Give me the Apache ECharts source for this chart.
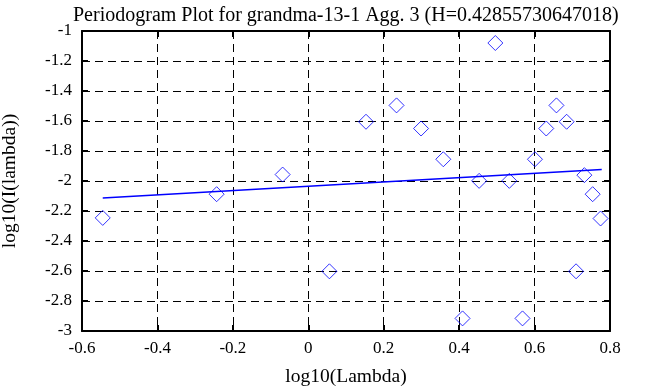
<!DOCTYPE html>
<html><head><meta charset="utf-8">
<script src="https://cdn.jsdelivr.net/npm/echarts@6/dist/echarts.min.js"></script>
<style>html,body{margin:0;padding:0;background:#fff}#c{width:658px;height:387px}</style>
</head><body><div id="c"></div>
<script>
const titleText = 'Periodogram Plot for grandma-13-1 Agg. 3 (H=0.42855730647018)';
const xName = 'log10(Lambda)';
const yName = 'log10(I(lambda))';
const pointX = [-0.545, -0.243, -0.068, 0.056, 0.153, 0.234, 0.299, 0.358, 0.409, 0.453, 0.496, 0.533, 0.568, 0.601, 0.631, 0.658, 0.685, 0.710, 0.732, 0.754, 0.775];
const pointY = [-2.246, -2.088, -1.957, -2.602, -1.605, -1.496, -1.650, -1.855, -2.916, -1.999, -1.080, -1.999, -2.916, -1.855, -1.650, -1.496, -1.605, -2.602, -1.961, -2.088, -2.250];
const fitX = [-0.545, 0.778];
const fitY = [-2.113, -1.924];

const font = 'Liberation Serif';
const chart = echarts.init(document.getElementById('c'), null, {renderer: 'canvas'});
const axisCommon = {
  axisLine: {show: true, onZero: false, lineStyle: {color: '#000', width: 2}},
  axisTick: {show: true, inside: true, length: 6, lineStyle: {color: '#000', width: 2}},
  splitLine: {show: false}
};
chart.setOption({
  animation: false,
  title: {text: titleText, left: 68, top: 1,
    textStyle: {fontFamily: font, fontSize: 20, fontWeight: 'normal', color: '#000'}},
  grid: {left: 82, right: 48, top: 31, bottom: 56, containLabel: false, outerBoundsMode: 'none'},
  xAxis: [
    Object.assign({}, axisCommon, {type: 'value', min: -0.6, max: 0.8, interval: 0.2, position: 'bottom',
      name: xName, nameLocation: 'middle', nameGap: 36,
      nameTextStyle: {fontFamily: font, fontSize: 19.5, color: '#000'},
      axisLabel: {fontFamily: font, fontSize: 17, color: '#000', margin: 9,
        formatter: v => String(Math.round(v * 10) / 10)},
      splitLine: {show: true, lineStyle: {color: '#000', type: [8, 5], width: 1}}}),
    Object.assign({}, axisCommon, {type: 'value', min: -0.6, max: 0.8, interval: 0.2, position: 'top',
      axisLabel: {show: false}})
  ],
  yAxis: [
    Object.assign({}, axisCommon, {type: 'value', min: -3, max: -1, interval: 0.2, position: 'left',
      name: yName, nameLocation: 'middle', nameGap: 62,
      nameTextStyle: {fontFamily: font, fontSize: 19.5, color: '#000'},
      axisLabel: {fontFamily: font, fontSize: 17, color: '#000', margin: 10,
        formatter: v => String(Math.round(v * 10) / 10)},
      splitLine: {show: true, lineStyle: {color: '#000', type: [8, 5], width: 1}}}),
    Object.assign({}, axisCommon, {type: 'value', min: -3, max: -1, interval: 0.2, position: 'right',
      axisLabel: {show: false}})
  ],
  series: [
    {type: 'scatter', xAxisIndex: 0, yAxisIndex: 0,
      data: pointX.map((x, i) => [x, pointY[i]]),
      symbol: 'diamond', symbolSize: [15, 15],
      itemStyle: {color: 'rgba(255,255,255,0)', borderColor: '#0000ff', borderWidth: 1}},
    {type: 'line', xAxisIndex: 0, yAxisIndex: 0,
      data: fitX.map((x, i) => [x, fitY[i]]),
      symbol: 'none', lineStyle: {color: '#0000ff', width: 1.5}}
  ]
});
</script></body></html>
